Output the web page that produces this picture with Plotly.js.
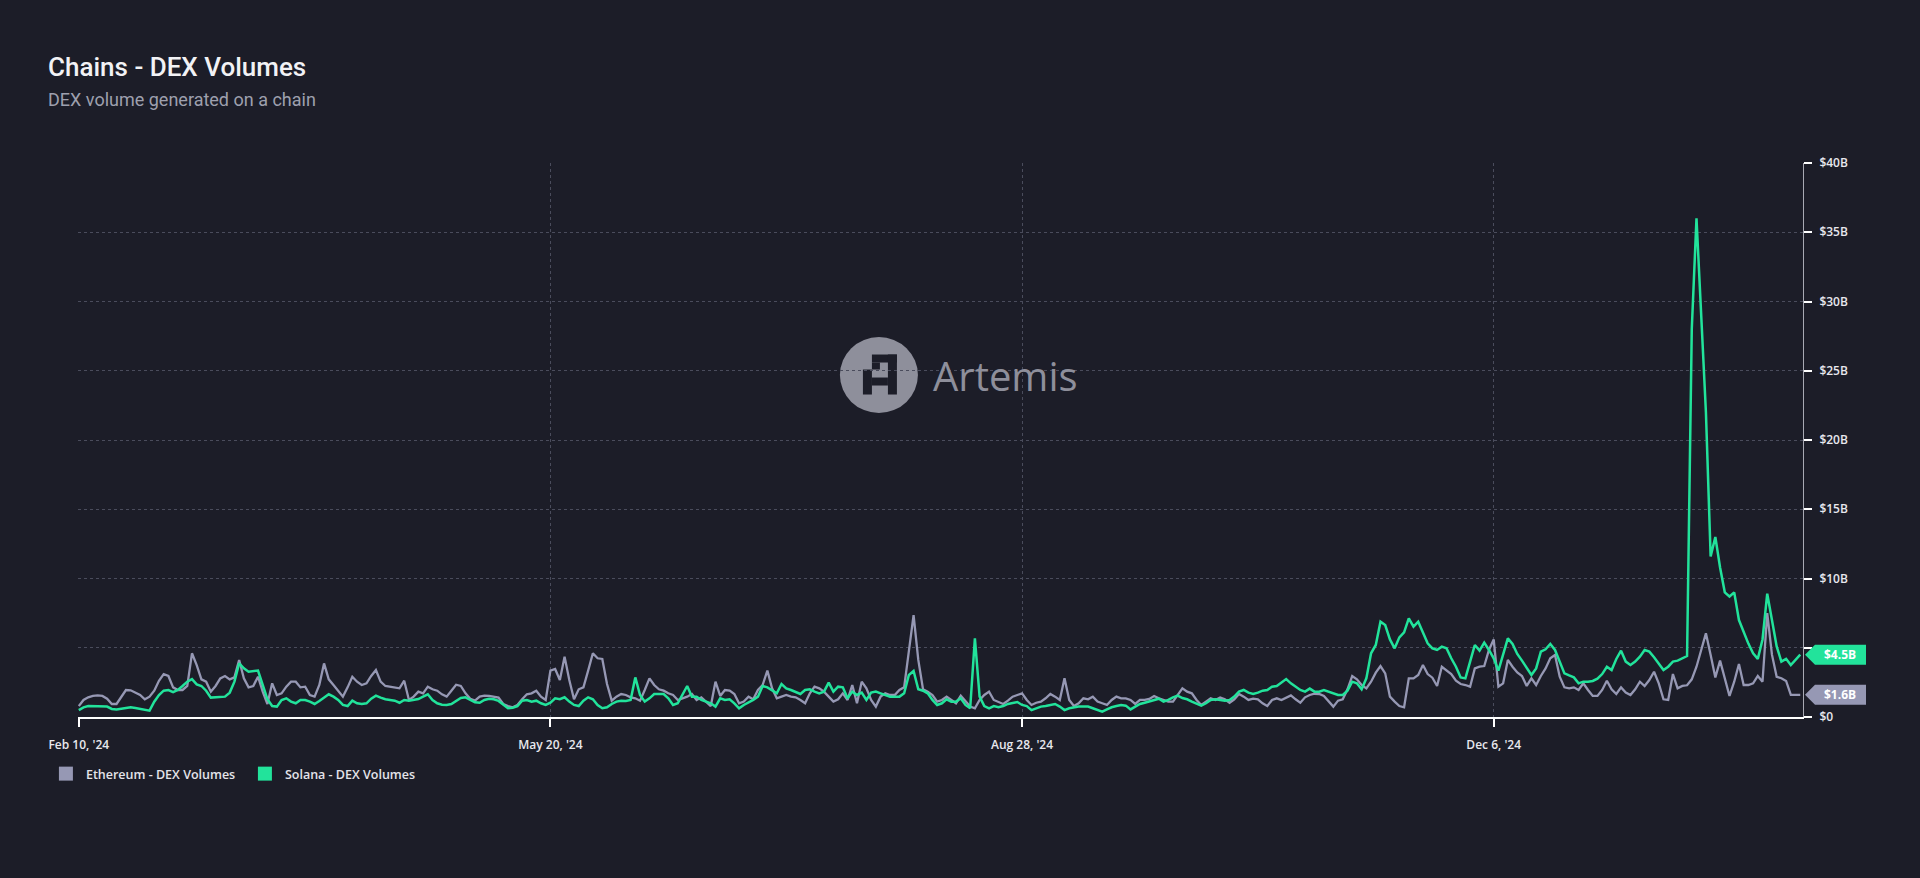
<!DOCTYPE html>
<html>
<head>
<meta charset="utf-8">
<script src="https://cdn.plot.ly/plotly-3.0.1.min.js"></script>
<style>
  html, body { margin: 0; padding: 0; background: #1c1d28; }
  #chart { width: 1920px; height: 878px; }
</style>
</head>
<body>
<div id="chart"></div>
<script>
// ---- Data (daily, in billions USD) ----
const startDate = '2024-02-10';
const seriesNames = ['Ethereum - DEX Volumes', 'Solana - DEX Volumes'];
const seriesColors = ['#9698b4', '#22e39b'];

const ethereumB = [
  0.79,1.23,1.42,1.52,1.56,1.52,1.32,0.94,0.94,1.42,
  1.95,1.93,1.76,1.59,1.28,1.47,1.9,2.62,3.1,2.96,
  2.14,1.95,1.95,2.24,4.6,3.75,2.72,2.55,1.83,2.24,
  2.79,2.96,2.72,2.86,4.12,2.79,2.14,2.24,2.91,1.83,
  0.94,2.43,1.59,1.71,2.19,2.55,2.55,2.14,2.19,1.59,
  1.47,2.31,3.87,2.72,2.31,1.9,1.47,2.14,2.91,2.55,
  2.31,2.43,2.96,3.39,2.55,2.24,2.19,2.09,2.07,2.62,
  1.23,1.47,1.83,1.71,2.19,2.0,1.9,1.64,1.47,1.9,
  2.33,2.24,1.71,1.32,1.18,1.47,1.54,1.52,1.47,1.4,
  0.94,0.79,0.7,0.87,1.28,1.64,1.71,1.9,1.47,1.23,
  3.35,3.47,2.67,4.36,2.67,1.28,2.0,2.14,3.35,4.6,
  4.24,4.19,2.38,1.18,1.47,1.66,1.59,1.42,1.35,1.18,
  1.95,2.79,2.31,2.0,1.9,1.71,1.59,1.23,1.35,1.47,
  1.66,1.23,1.42,1.11,0.79,2.55,1.52,1.95,1.9,1.66,
  0.99,1.11,1.47,1.28,1.95,2.31,3.35,2.07,1.35,1.47,
  1.59,1.47,1.42,1.23,0.99,1.71,2.19,2.07,1.83,1.47,
  1.11,1.28,1.71,1.23,2.31,0.99,2.55,2.07,1.23,0.75,
  1.47,1.71,1.59,1.59,1.95,2.14,4.6,7.36,4.12,2.0,
  1.83,1.59,1.11,1.23,1.47,1.23,0.99,1.54,1.11,0.75,
  0.63,1.23,1.59,1.83,1.23,1.11,0.94,1.18,1.47,1.59,
  1.71,1.23,0.87,1.03,1.11,1.35,1.66,1.47,1.23,2.79,
  1.23,0.79,0.99,1.35,1.28,1.47,1.11,0.99,0.87,1.23,
  1.47,1.35,1.35,1.23,0.94,1.23,1.23,1.3,1.52,1.35,
  1.23,1.11,1.11,1.59,2.07,1.83,1.71,1.23,0.87,1.11,
  1.35,1.23,1.4,1.28,1.03,1.28,1.66,1.47,1.23,1.32,
  1.28,0.99,0.79,1.23,1.35,1.23,1.4,1.56,1.28,1.03,
  1.42,1.59,1.68,1.66,1.52,1.11,0.75,1.18,1.28,2.0,
  2.96,2.72,2.31,2.07,2.55,3.2,3.68,3.15,1.47,1.11,
  0.79,0.7,2.79,2.79,3.03,3.75,3.1,2.84,2.24,3.63,
  3.39,3.1,2.62,2.38,2.31,2.19,3.51,3.63,3.68,4.84,
  5.6,2.19,2.43,4.12,3.63,3.22,2.96,2.24,2.79,2.31,
  2.96,3.51,4.24,4.48,2.91,2.14,2.07,2.14,1.95,2.43,
  1.95,1.52,1.52,1.95,2.62,2.0,1.66,2.14,1.76,1.59,
  2.0,2.55,2.24,2.67,3.27,2.43,1.28,1.23,3.1,2.07,
  2.24,2.29,2.72,3.63,4.84,6.04,4.48,2.86,4.07,2.72,
  1.52,2.55,3.83,2.31,2.31,2.43,2.96,2.55,7.5,4.5,
  2.9,2.8,2.6,1.6,1.6,1.6
];

const solanaB = [
  0.5,0.7,0.79,0.79,0.79,0.79,0.75,0.58,0.55,0.6,
  0.65,0.7,0.65,0.58,0.5,0.46,1.1,1.59,1.9,1.95,
  1.8,1.95,2.24,2.55,2.74,2.36,2.24,1.9,1.4,1.42,
  1.47,1.47,1.76,2.55,3.87,3.51,3.27,3.32,3.35,2.31,
  1.28,0.79,0.75,1.23,1.35,1.11,0.99,1.23,1.23,1.11,
  0.94,1.16,1.4,1.64,1.47,1.23,0.87,0.79,1.18,0.99,
  0.94,0.99,1.32,1.54,1.4,1.28,1.23,1.18,1.03,1.23,
  1.18,1.23,1.3,1.47,1.64,1.23,0.99,0.89,0.87,0.94,
  1.18,1.37,1.42,1.23,1.06,1.03,1.23,1.32,1.28,1.16,
  0.87,0.63,0.67,0.79,1.18,1.23,1.11,1.18,0.99,0.87,
  1.03,1.35,1.28,1.42,1.11,0.87,0.79,1.18,1.42,1.28,
  0.87,0.63,0.7,0.94,1.11,1.18,1.16,1.23,2.86,1.59,
  1.11,1.35,1.66,1.66,1.66,1.35,0.87,0.99,1.66,2.24,
  1.47,1.47,1.23,1.11,0.99,0.75,1.35,1.23,1.28,0.99,
  0.63,0.87,1.03,1.23,1.47,2.24,2.14,1.95,1.71,2.38,
  2.07,1.95,1.83,1.66,1.95,2.0,1.83,1.71,1.83,2.48,
  1.83,2.19,2.14,1.35,1.83,1.59,1.76,1.23,1.76,1.83,
  1.71,1.59,1.47,1.47,1.47,1.71,3.03,3.32,2.0,1.9,
  1.71,1.23,0.87,0.99,1.28,1.11,1.11,1.35,0.87,0.63,
  5.68,1.47,0.79,0.63,0.79,0.7,0.79,0.94,1.03,1.08,
  0.87,0.79,0.5,0.63,0.75,0.79,0.87,0.94,0.75,0.5,
  0.63,0.7,0.75,0.75,0.75,0.63,0.5,0.39,0.55,0.7,
  0.79,0.87,0.82,0.55,0.75,0.94,1.03,1.13,1.18,1.32,
  1.11,1.23,1.42,1.54,1.37,1.28,1.11,0.94,0.82,0.99,
  1.23,1.28,1.23,1.18,1.23,1.47,1.83,1.95,1.76,1.66,
  1.76,1.9,1.95,2.19,2.24,2.48,2.74,2.43,2.19,1.95,
  1.83,2.05,1.83,1.83,1.95,1.83,1.71,1.59,1.59,1.9,
  2.55,2.43,2.0,2.79,4.6,5.2,6.88,6.64,5.6,4.96,
  5.75,6.11,7.12,6.52,6.88,6.16,5.32,4.96,4.84,5.08,
  4.96,4.24,3.63,2.86,2.79,4.0,5.2,4.79,5.37,4.84,
  4.24,3.35,4.48,5.68,5.27,4.55,4.07,3.51,3.03,3.51,
  4.72,4.89,5.27,4.84,4.0,3.15,3.0,2.86,2.43,2.55,
  2.55,2.6,2.77,3.1,3.63,3.39,4.19,4.79,4.0,3.75,
  4.0,4.36,4.84,4.72,4.31,3.87,3.39,3.63,4.0,4.07,
  4.24,4.4,28,36,29,22,11.6,13.0,10.8,9.0,
  8.7,9.0,7.0,6.1,5.3,4.6,4.2,5.6,8.9,7.0,
  5.1,4.0,4.2,3.75,4.1,4.5
];

const xTickDates = ['2024-02-10', '2024-05-20', '2024-08-28', '2024-12-06'];
const xTickLabels = ["Feb 10, '24", "May 20, '24", "Aug 28, '24", "Dec 6, '24"];
const yTickVals = [0, 5, 10, 15, 20, 25, 30, 35, 40];
// the $5B label sits behind the last-value tag in the reference, so it is left blank
const yTickLabels = ['$0', '', '$10B', '$15B', '$20B', '$25B', '$30B', '$35B', '$40B'];

// ---- Build date axis ----
function buildDates(start, n) {
  const out = [];
  const d0 = new Date(start + 'T00:00:00Z');
  for (let i = 0; i < n; i++) {
    const d = new Date(d0.getTime() + i * 86400000);
    out.push(d.toISOString().slice(0, 10));
  }
  return out;
}
const dates = buildDates(startDate, ethereumB.length);

const bg = '#1c1d28';
const gridColor = '#4a4c5c';
const tickFont = { family: 'Open Sans, sans-serif', size: 12, color: '#e8e8ee', weight: 600 };

const traces = [
  { type: 'scatter', mode: 'lines', x: dates, y: ethereumB, name: seriesNames[0],
    line: { color: seriesColors[0], width: 2.3 }, showlegend: false, hoverinfo: 'skip' },
  { type: 'scatter', mode: 'lines', x: dates, y: solanaB, name: seriesNames[1],
    line: { color: seriesColors[1], width: 2.5 }, showlegend: false, hoverinfo: 'skip' },
  { type: 'scatter', mode: 'markers', x: [null], y: [null], name: seriesNames[0],
    marker: { symbol: 'square', size: 14, color: seriesColors[0] }, hoverinfo: 'skip' },
  { type: 'scatter', mode: 'markers', x: [null], y: [null], name: seriesNames[1],
    marker: { symbol: 'square', size: 14, color: seriesColors[1] }, hoverinfo: 'skip' }
];

const lastEth = ethereumB[ethereumB.length - 1];
const lastSol = solanaB[solanaB.length - 1];
const fmt = v => '$' + v.toFixed(1) + 'B';
const tagPath = 'M 2,0 L 12,10 L 63,10 L 63,-10 L 12,-10 Z';

const wm = { xanchor: 0.4643, yanchor: 0.6173 };
function wmRect(x0, x1, y0, y1, color) {
  return { type: 'rect', xref: 'paper', yref: 'paper', xsizemode: 'pixel', ysizemode: 'pixel',
    xanchor: wm.xanchor, yanchor: wm.yanchor, x0: x0, x1: x1, y0: y0, y1: y1,
    fillcolor: color, line: { width: 0 }, layer: 'between' };
}

const shapes = [
  { type: 'circle', xref: 'paper', yref: 'paper', xsizemode: 'pixel', ysizemode: 'pixel',
    xanchor: wm.xanchor, yanchor: wm.yanchor, x0: -39, x1: 39, y0: -38, y1: 38,
    fillcolor: '#8e8f9b', line: { width: 0 }, layer: 'between' },
  wmRect(-7, 18, 12.5, 20.5, bg),
  wmRect(9, 18, -19.5, 20.5, bg),
  wmRect(-16, -7, -19.5, 5.5, bg),
  wmRect(-7, 1, 5.5, 12.5, bg),
  wmRect(-7, 9, -10.5, -2.5, bg),
  { type: 'path', xref: 'paper', yref: 'y', xsizemode: 'pixel', ysizemode: 'pixel',
    xanchor: 1, yanchor: lastSol, path: tagPath, fillcolor: seriesColors[1], line: { width: 0 }, layer: 'above' },
  { type: 'path', xref: 'paper', yref: 'y', xsizemode: 'pixel', ysizemode: 'pixel',
    xanchor: 1, yanchor: lastEth, path: tagPath, fillcolor: seriesColors[0], line: { width: 0 }, layer: 'above' }
];

const annotations = [
  { text: 'DEX volume generated on a chain', xref: 'paper', yref: 'paper',
    x: -0.0186, y: 1.1155, xanchor: 'left', yanchor: 'middle', showarrow: false,
    font: { family: 'Roboto, sans-serif', size: 18, color: '#9ea0ae' } },
  { text: 'Artemis', xref: 'paper', yref: 'paper', x: 0.4946, y: 0.6173,
    xanchor: 'left', yanchor: 'middle', showarrow: false,
    font: { family: 'Open Sans, sans-serif', size: 40, color: '#8e8f9b' } },
  { text: fmt(lastSol), xref: 'paper', yref: 'y', x: 1, y: lastSol, xshift: 37,
    xanchor: 'center', yanchor: 'middle', showarrow: false,
    font: { family: 'Open Sans, sans-serif', size: 12, color: '#ffffff', weight: 700 } },
  { text: fmt(lastEth), xref: 'paper', yref: 'y', x: 1, y: lastEth, xshift: 37,
    xanchor: 'center', yanchor: 'middle', showarrow: false,
    font: { family: 'Open Sans, sans-serif', size: 12, color: '#ffffff', weight: 700 } }
];

const layout = {
  width: 1920, height: 878,
  paper_bgcolor: bg, plot_bgcolor: bg,
  margin: { l: 78, r: 117, t: 163, b: 161 },
  font: { family: 'Open Sans, sans-serif', size: 12, color: '#e6e6ec' },
  title: {
    text: 'Chains - DEX Volumes', xref: 'container', yref: 'container',
    x: 48 / 1920, xanchor: 'left', y: 1 - 67 / 878, yanchor: 'middle',
    font: { family: 'Roboto, sans-serif', size: 26, color: '#f2f2f5', weight: 500 }
  },
  xaxis: {
    type: 'date', range: ['2024-02-09 20:00', '2025-02-09 14:00'],
    tickmode: 'array', tickvals: xTickDates, ticktext: xTickLabels,
    showgrid: true, gridcolor: gridColor, griddash: 'dot', gridwidth: 1,
    showline: true, linecolor: '#ffffff', linewidth: 2,
    ticks: 'outside', ticklen: 8, tickwidth: 2, tickcolor: '#ffffff',
    tickfont: tickFont, ticklabelstandoff: 8, zeroline: false, fixedrange: true
  },
  yaxis: {
    side: 'right', range: [0, 40],
    tickmode: 'array', tickvals: yTickVals, ticktext: yTickLabels,
    showgrid: true, gridcolor: gridColor, griddash: 'dot', gridwidth: 1,
    showline: true, linecolor: '#a8a9b3', linewidth: 1,
    ticks: 'outside', ticklen: 8, tickwidth: 2, tickcolor: '#ffffff',
    tickfont: tickFont, ticklabelstandoff: 5, zeroline: false, fixedrange: true
  },
  showlegend: true,
  legend: {
    orientation: 'h', x: -0.0186, xanchor: 'left', y: -0.1029, yanchor: 'middle',
    entrywidth: 154, entrywidthmode: 'pixels',
    font: { family: 'Open Sans, sans-serif', size: 12.5, color: '#e4e4ea', weight: 600 },
    bgcolor: 'rgba(0,0,0,0)', traceorder: 'normal'
  },
  shapes: shapes,
  annotations: annotations
};

Plotly.newPlot('chart', traces, layout, { displayModeBar: false, staticPlot: true });
</script>
</body>
</html>
